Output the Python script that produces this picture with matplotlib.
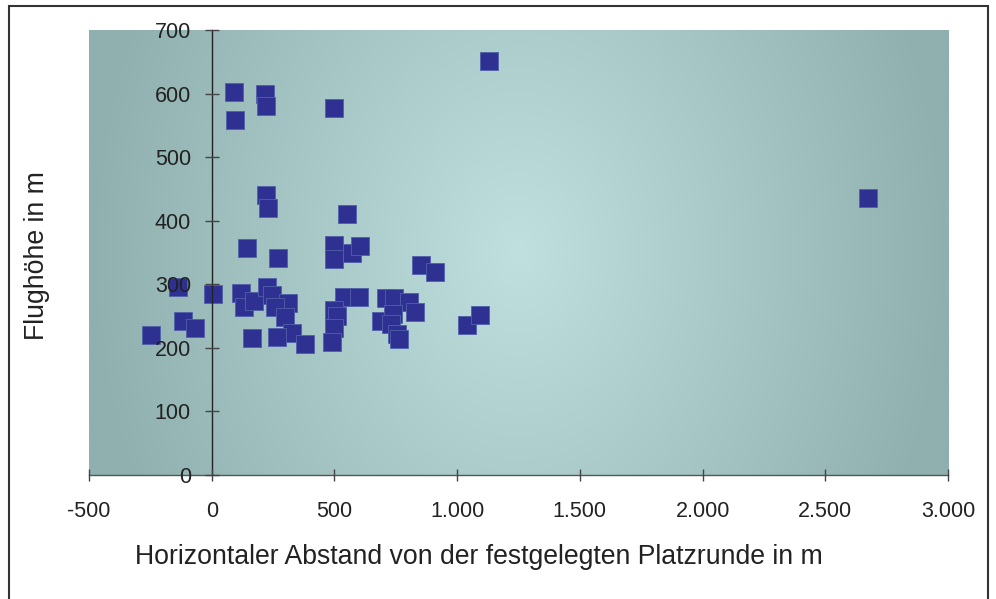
import numpy as np
import matplotlib.pyplot as plt
from matplotlib.ticker import FuncFormatter
from matplotlib.patches import Rectangle

plt.rcParams['font.family'] = ['Liberation Sans', 'DejaVu Sans']

# Abstand (m) und Flughoehe (m)
abstand = [-246, -139, -116, -68, 7, 144, 269, 121, 130, 171, 224, 246, 311, 259,
           299, 327, 266, 165, 380, 500, 500, 570, 605, 538, 599, 500, 511, 500,
           489, 550, 853, 911, 710, 742, 803, 827, 689, 738, 729, 755, 765, 1042,
           1095, 92, 216, 221, 94, 500, 221, 231, 1129, 2676]
hoehe = [221, 295, 243, 231, 284, 357, 341, 287, 265, 273, 296, 283, 271, 264,
         248, 224, 217, 216, 206, 362, 340, 350, 361, 280, 280, 260, 250, 232,
         210, 410, 330, 320, 279, 279, 272, 256, 242, 254, 238, 222, 214, 236,
         252, 603, 600, 581, 558, 577, 440, 420, 652, 435]

x_ticks = [-500, 0, 500, 1000, 1500, 2000, 2500, 3000]
y_ticks = [0, 100, 200, 300, 400, 500, 600, 700]


def de_format(v, pos=None):
    return f"{int(v):,}".replace(",", ".")


fig = plt.figure(figsize=(9.96, 5.99), dpi=100)
ax = fig.add_axes([89 / 996, 1 - 475 / 599, 859 / 996, 445 / 599])
ax.set_axisbelow(False)

# background gradient, light in the middle, darker towards the sides
gx = np.linspace(-1, 1, 400)
gy = np.linspace(-1, 1, 200)
u, v = np.meshgrid(gx, gy)
t = np.clip(np.sqrt(u ** 2 + (0.4 * v) ** 2), 0, 1)
light = np.array([0xbf, 0xe0, 0xdf]) / 255
dark = np.array([0x8f, 0xb0, 0xae]) / 255
img = light[None, None, :] * (1 - t[..., None]) + dark[None, None, :] * t[..., None]
ax.imshow(img, extent=[0, 1, 0, 1], transform=ax.transAxes, aspect='auto', zorder=0)

ax.scatter(abstand, hoehe, marker='s', s=13 ** 2, c='#2e3192',
           edgecolors='#5060a8', linewidths=0.6, zorder=2)

ax.set_xlim(-500, 3000)
ax.set_ylim(0, 700)
ax.set_xticks(x_ticks)
ax.set_yticks(y_ticks)
ax.xaxis.set_major_formatter(FuncFormatter(de_format))
ax.yaxis.set_major_formatter(FuncFormatter(de_format))

ax.spines['left'].set_position(('data', 0))
ax.spines['bottom'].set_position(('data', 0))
ax.spines['right'].set_visible(False)
ax.spines['top'].set_visible(False)
ax.spines['left'].set_color('#222222')
ax.spines['bottom'].set_color('#555555')
ax.spines['left'].set_linewidth(1.0)
ax.spines['bottom'].set_linewidth(1.0)

ax.tick_params(axis='y', direction='inout', length=10, width=1.0, color='#444444',
               pad=10, labelsize=15.5, labelcolor='#222222')
ax.tick_params(axis='x', direction='inout', length=9, width=1.0, color='#444444',
               pad=14, labelsize=15.5, labelcolor='#222222')

fig.text(479 / 996, 1 - 557 / 599, 'Horizontaler Abstand von der festgelegten Platzrunde in m',
         ha='center', va='center', fontsize=19.2, color='#222222')
fig.text(37 / 996, 1 - 256 / 599, 'Flughöhe in m', ha='center', va='center',
         rotation=90, fontsize=19.2, color='#222222')

fig.patches.append(Rectangle((9 / 996, -0.05), 979 / 996, 1.05 - 6 / 599, transform=fig.transFigure,
                             fill=False, edgecolor='#333333', linewidth=1.5))

fig.savefig('out.png', dpi=100)
